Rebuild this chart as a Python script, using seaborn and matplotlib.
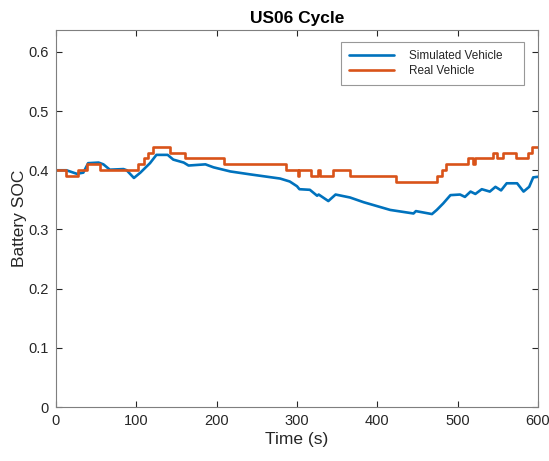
import matplotlib
matplotlib.use("Agg")
import matplotlib.pyplot as plt
import seaborn as sns
import pandas as pd

# Simulated battery state of charge over the US06 drive cycle
sim_time = [0, 13, 26, 34, 40, 53, 59, 67, 84, 88, 97, 105, 117, 125, 139, 146,
            159, 165, 186, 196, 217, 242, 279, 291, 300, 303, 316, 325, 327,
            339, 348, 366, 383, 416, 445, 448, 468, 474, 482, 491, 503, 509,
            516, 522, 530, 540, 547, 554, 561, 574, 582, 589, 594, 600]
sim_soc = [0.400, 0.400, 0.394, 0.396, 0.412, 0.413, 0.410, 0.401, 0.402, 0.400,
           0.387, 0.396, 0.412, 0.426, 0.426, 0.418, 0.413, 0.408, 0.410, 0.405,
           0.398, 0.393, 0.386, 0.381, 0.373, 0.368, 0.367, 0.357, 0.359,
           0.348, 0.359, 0.354, 0.346, 0.333, 0.327, 0.331, 0.326, 0.333,
           0.344, 0.358, 0.359, 0.355, 0.364, 0.360, 0.368, 0.364, 0.372,
           0.366, 0.378, 0.378, 0.364, 0.372, 0.388, 0.389]

# Measured battery state of charge (quantised to 0.01 steps)
real_time = [0, 13, 28, 38, 55, 102, 109, 115, 121, 142, 161, 209, 286, 301, 303,
             318, 326, 328, 345, 366, 423, 474, 480, 485, 513, 519, 521, 544,
             549, 557, 572, 587, 592, 600]
real_soc = [0.40, 0.39, 0.40, 0.41, 0.40, 0.41, 0.42, 0.43, 0.44, 0.43, 0.42, 0.41,
            0.40, 0.39, 0.40, 0.39, 0.40, 0.39, 0.40, 0.39, 0.38, 0.39, 0.40,
            0.41, 0.42, 0.41, 0.42, 0.43, 0.42, 0.43, 0.42, 0.43, 0.44, 0.44]

x_ticks = [0, 100, 200, 300, 400, 500, 600]
y_ticks = [0, 0.1, 0.2, 0.3, 0.4, 0.5, 0.6]
y_tick_labels = ["0", "0.1", "0.2", "0.3", "0.4", "0.5", "0.6"]

sns.set_theme(style="white")
plt.rcParams["font.family"] = ["Liberation Sans", "DejaVu Sans"]

blue = "#0072BD"
orange = "#D95319"
edge = "#262626"

fig = plt.figure(figsize=(5.49, 4.61), dpi=100)
ax = fig.add_axes([0.102, 0.117, 0.878, 0.818])

sim_df = pd.DataFrame({"t": sim_time, "soc": sim_soc})
real_df = pd.DataFrame({"t": real_time, "soc": real_soc})

sns.lineplot(data=sim_df, x="t", y="soc", ax=ax, color=blue, linewidth=1.9,
             estimator=None, sort=False, label="Simulated Vehicle")
sns.lineplot(data=real_df, x="t", y="soc", ax=ax, color=orange, linewidth=1.9,
             estimator=None, sort=False, drawstyle="steps-post",
             label="Real Vehicle")

ax.set_xlim(0, 600)
ax.set_ylim(0, 0.637)
ax.set_xticks(x_ticks)
ax.set_xticklabels([str(v) for v in x_ticks])
ax.set_yticks(y_ticks)
ax.set_yticklabels(y_tick_labels)

ax.tick_params(axis="both", direction="in", length=4, width=0.8, colors=edge,
               labelsize=10.5, top=True, right=True, bottom=True, left=True,
               labelcolor="#262626", pad=5)
for side in ax.spines.values():
    side.set_color("#7f7f7f")
    side.set_linewidth(0.8)

ax.set_xlabel("Time (s)", fontsize=12.5, color=edge, labelpad=3)
ax.set_ylabel("Battery SOC", fontsize=12.5, color=edge, labelpad=1)
ax.set_title("US06 Cycle", fontsize=12.5, fontweight="bold", color="black", pad=5)

handles, labels = ax.get_legend_handles_labels()
leg = ax.legend(handles, [lab + "    " for lab in labels],
                loc="upper right", bbox_to_anchor=(0.971, 0.968), frameon=True,
                fancybox=False, fontsize=8.5, handlelength=3.8, handletextpad=1.3,
                borderpad=0.7, labelspacing=0.2, borderaxespad=0.0)
leg.get_frame().set_edgecolor("#7f7f7f")
leg.get_frame().set_linewidth(0.8)

fig.savefig("out.png", dpi=100)
